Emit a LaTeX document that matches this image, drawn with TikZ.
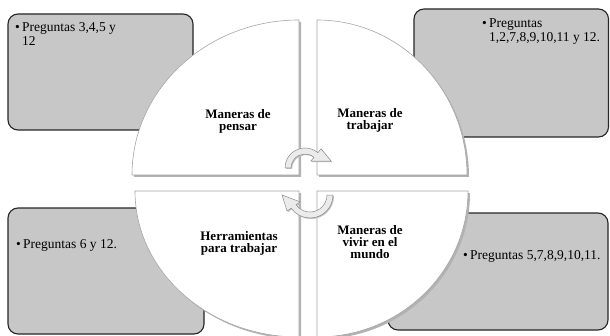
\documentclass[tikz,border=0pt]{standalone}
\usepackage{fontspec}
\setmainfont{Liberation Serif}
\usetikzlibrary{calc}

\tikzset{
  qbox/.style={draw=black!85, line width=1.1pt, fill=black!22, rounded corners=10pt},
  quad/.style={draw=black!35, line width=0.6pt, fill=white,
    preaction={fill=black!30, transform canvas={shift={(2pt,-2pt)}}}},
  qlabel/.style={font=\fontsize{13}{12}\selectfont\bfseries, align=center, inner sep=0pt},
  qtext/.style={font=\fontsize{13.5}{14}\selectfont, anchor=base west, inner sep=0pt},
  turn/.style={fill=black!8, draw=black!45, line width=0.5pt,
    preaction={fill=black!25, transform canvas={shift={(1pt,-1pt)}}}}
}

% bullet item, second line goes after \\ &
\newcommand{\pregunta}[1]{\begin{tabular}[t]{@{}l@{\,}l@{}}\textbullet & #1\end{tabular}}

\begin{document}
\begin{tikzpicture}[x=1pt,y=1pt]
\useasboundingbox (0,0) rectangle (610,335);
\fill[white] (0,0) rectangle (610,335);

\pgfmathsetmacro{\XL}{299}  % inner corner, left quarters
\pgfmathsetmacro{\XR}{317}  % inner corner, right quarters
\pgfmathsetmacro{\YT}{160}  % inner corner, upper quarters
\pgfmathsetmacro{\YB}{144}  % inner corner, lower quarters

% grey boxes with the questions
\draw[qbox] (8,205) rectangle (193,321);
\draw[qbox] (414,198) rectangle (608.5,326);
\draw[qbox] (8,1) rectangle (204,127);
\draw[qbox] (388,5) rectangle (608,122);

\node[qtext] (p1) at (15,303) {\pregunta{Preguntas 3,4,5 y\\ & 12}};
\node[qtext] (p2) at (482,307) {\pregunta{Preguntas\\ & 1,2,7,8,9,10,11 y 12.}};
\node[qtext] (p3) at (16,87) {\pregunta{Preguntas 6 y 12.}};
\node[qtext] (p4) at (463,76) {\pregunta{Preguntas 5,7,8,9,10,11.}};

% the four quarters
\draw[quad] (\XL,\YT) -- ++(0,155) arc[start angle=90, end angle=180, x radius=167, y radius=155] -- cycle;
\draw[quad] (\XR,\YT) -- ++(0,155) arc[start angle=90, end angle=0, x radius=150, y radius=155] -- cycle;
\draw[quad] (\XL,\YB) -- ++(-164,0) arc[start angle=180, end angle=270, x radius=164, y radius=146] -- cycle;
\draw[quad] (\XR,\YB) -- ++(151,0) arc[start angle=0, end angle=-90, x radius=151, y radius=146] -- cycle;

\node[qlabel] (pensar) at (238,214) {Maneras de\\pensar};
\node[qlabel] (trabajar) at (370,215) {Maneras de\\trabajar};
\node[qlabel] (herramientas) at (239,92) {Herramientas\\para trabajar};
\node[qlabel] (vivir) at (370,93) {Maneras de\\vivir en el\\mundo};

% turning arrows in the middle
\coordinate (c1) at (305,167);
\coordinate (c2) at (310,140);
\draw[turn] ($(c1)+(180:20)$) arc[start angle=180, end angle=50, radius=20]
  -- ($(c1)+(50:25)$) -- ($(c1)+(15:27)$) -- ($(c1)+(50:9)$)
  -- ($(c1)+(50:14)$) arc[start angle=50, end angle=180, radius=14] -- cycle;
\draw[turn] ($(c2)+(0:23)$) arc[start angle=0, end angle=-145, radius=23]
  -- ($(c2)+(-145:28)$) -- ($(c2)+(180:28)$) -- ($(c2)+(-145:12)$)
  -- ($(c2)+(-145:17)$) arc[start angle=-145, end angle=0, radius=17] -- cycle;
\end{tikzpicture}
\end{document}
